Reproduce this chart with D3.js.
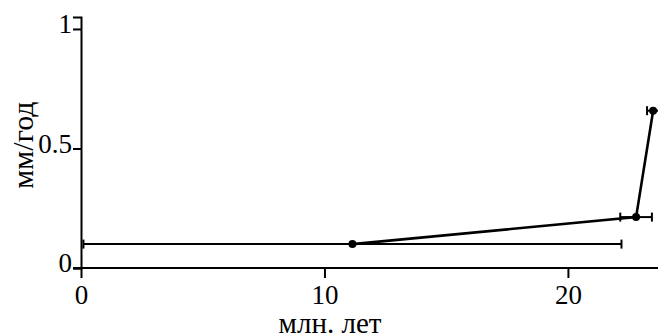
<!DOCTYPE html>
<html>
<head>
<meta charset="utf-8">
<script src="https://cdn.jsdelivr.net/npm/d3@7"></script>
<style>
  body { margin: 0; background: #fff; }
</style>
</head>
<body>
<svg id="chart"></svg>
<script>
const width = 658;
const height = 336;
const serif = "Liberation Serif";

// data
const ages = [11.15, 22.8, 23.5];        // млн. лет
const rates = [0.1, 0.213, 0.658];      // мм/год
const ageErr = [11.05, 0.65, 0.25];
const xTicks = [0, 10, 20];
const yTicks = [0, 0.5, 1];

const points = ages.map((a, i) => ({ x: a, y: rates[i], e: ageErr[i] }));

const svg = d3.select("#chart").attr("width", width).attr("height", height);

const x = d3.scaleLinear().domain([0, 23.7]).range([81, 658]);
const y = d3.scaleLinear().domain([0, 1.05]).range([268, 17]);

// axes
const xAxis = d3.axisBottom(x).tickValues(xTicks).tickSizeOuter(0).tickSize(10).tickPadding(7)
    .tickFormat(d3.format("d"));
const yAxis = d3.axisLeft(y).tickValues(yTicks).tickSizeOuter(0).tickSize(8).tickPadding(1)
    .tickFormat(d => d === 0.5 ? "0.5" : d3.format("d")(d));

const gx = svg.append("g").attr("transform", "translate(0,268)").call(xAxis);
const gy = svg.append("g").attr("transform", "translate(81,0)").call(yAxis);

[gx, gy].forEach(g => {
    g.attr("font-family", serif).attr("font-size", 27);
    g.selectAll("path, line").attr("stroke", "#000").attr("stroke-width", 2);
    g.selectAll("text").attr("fill", "#000");
});
gy.selectAll("text").attr("dy", "0.14em");
gx.select(".domain").attr("d", "M73,0H658");

// error bars
const bars = svg.append("g").attr("stroke", "#000").attr("stroke-width", 2);
bars.selectAll(".eb").data(points).enter().append("line")
    .attr("x1", d => x(d.x - d.e)).attr("x2", d => x(d.x + d.e))
    .attr("y1", d => y(d.y)).attr("y2", d => y(d.y));
bars.selectAll(".capl").data(points).enter().append("line")
    .attr("x1", d => x(d.x - d.e)).attr("x2", d => x(d.x - d.e))
    .attr("y1", d => y(d.y) - 4.5).attr("y2", d => y(d.y) + 4.5);
bars.selectAll(".capr").data(points).enter().append("line")
    .attr("x1", d => x(d.x + d.e)).attr("x2", d => x(d.x + d.e))
    .attr("y1", d => y(d.y) - 4.5).attr("y2", d => y(d.y) + 4.5);

// connecting line
const line = d3.line().x(d => x(d.x)).y(d => y(d.y));
svg.append("path").datum(points)
    .attr("d", line)
    .attr("fill", "none")
    .attr("stroke", "#000")
    .attr("stroke-width", 2.6);

svg.selectAll(".pt").data(points).enter().append("circle")
    .attr("cx", d => x(d.x)).attr("cy", d => y(d.y))
    .attr("r", 4).attr("fill", "#000");

// axis titles
svg.append("text")
    .attr("x", 330).attr("y", 333)
    .attr("text-anchor", "middle")
    .attr("font-family", serif)
    .attr("font-size", 29)
    .text("млн. лет");

svg.append("text")
    .attr("transform", "translate(33,145) rotate(-90)")
    .attr("text-anchor", "middle")
    .attr("font-family", serif)
    .attr("font-size", 30)
    .text("мм/год");
</script>
</body>
</html>
